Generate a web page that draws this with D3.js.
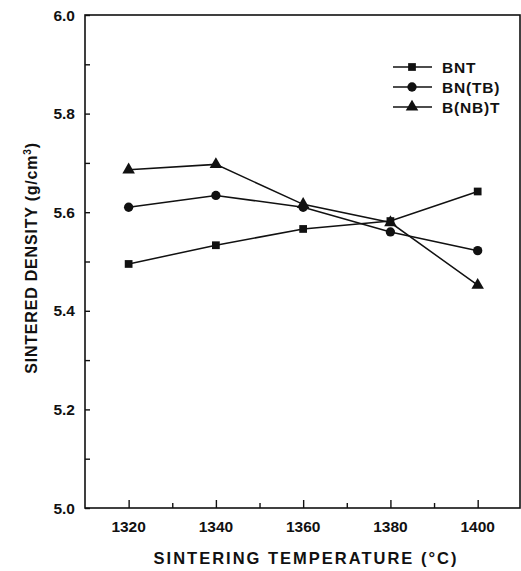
<!DOCTYPE html>
<html><head><meta charset="utf-8">
<script src="https://cdn.jsdelivr.net/npm/d3@7"></script>
<style>body{margin:0;background:#fff}svg{display:block}text{font-family:"Liberation Sans",Arial,sans-serif;font-weight:bold;fill:#111}</style>
</head><body><svg id="c" width="521" height="571"></svg>
<script>
const temps = [1320, 1340, 1360, 1380, 1400];
const bnt = [5.495, 5.533, 5.566, 5.582, 5.642];
const bntb = [5.610, 5.634, 5.610, 5.560, 5.522];
const bnbt = [5.686, 5.697, 5.616, 5.579, 5.452];
const seriesNames = ["BNT", "BN(TB)", "B(NB)T"];
const markers = ["square", "circle", "triangle"];
const xTicks = [1320, 1340, 1360, 1380, 1400];
const yTicks = [5.0, 5.2, 5.4, 5.6, 5.8, 6.0];

const series = [bnt, bntb, bnbt];
const svg = d3.select("#c");
const L = 85, R = 520, T = 15, B = 508;
const x = d3.scaleLinear().domain([1310, 1409.7]).range([L, R]);
const y = d3.scaleLinear().domain([5.0, 6.0]).range([B, T]);
const ink = "#111";

// frame
svg.append("rect").attr("x", L).attr("y", T).attr("width", R - L).attr("height", B - T)
  .attr("fill", "none").attr("stroke", ink).attr("stroke-width", 1.6);

// x axis ticks (inward)
const xAxis = d3.axisTop(x).tickValues(d3.range(1320, 1401, 10)).tickFormat("").tickSizeOuter(0)
  .tickSize(5);
const gx = svg.append("g").attr("transform", `translate(0,${B})`).call(xAxis);
gx.select(".domain").remove();
gx.selectAll(".tick line").attr("stroke", ink).attr("stroke-width", 1.4)
  .attr("y2", d => (d % 20 === 0 ? -8 : -5));
svg.append("g").selectAll("text").data(xTicks).join("text")
  .attr("x", d => x(d)).attr("y", 532).attr("text-anchor", "middle")
  .attr("font-size", 15.5).text(d => d);

// y axis ticks (inward)
const yAxis = d3.axisRight(y).tickValues(d3.range(0, 11).map(i => 5 + i * 0.1)).tickFormat("").tickSizeOuter(0).tickSize(5);
const gy = svg.append("g").attr("transform", `translate(${L},0)`).call(yAxis);
gy.select(".domain").remove();
gy.selectAll(".tick line").attr("stroke", ink).attr("stroke-width", 1.4);
svg.append("g").selectAll("text").data(yTicks).join("text")
  .attr("x", 75).attr("y", d => y(d) + 5.5).attr("text-anchor", "end")
  .attr("font-size", 15.5).text(d => d.toFixed(1));

// titles
svg.append("text").attr("x", 306).attr("y", 564).attr("text-anchor", "middle")
  .attr("font-size", 16.5).attr("letter-spacing", 2).text("SINTERING TEMPERATURE (°C)");
const yt = svg.append("text").attr("transform", "translate(37,258) rotate(-90)")
  .attr("text-anchor", "middle").attr("font-size", 16).attr("letter-spacing", 0.8);
yt.append("tspan").text("SINTERED DENSITY (g/cm");
yt.append("tspan").attr("dy", -6).attr("font-size", 10).text("3");
yt.append("tspan").attr("dy", 6).text(")");

const sym = {
  square: d3.symbol().type(d3.symbolSquare).size(60),
  circle: d3.symbol().type(d3.symbolCircle).size(68),
  triangle: d3.symbol().type(d3.symbolTriangle).size(68)
};

const line = d3.line().x((d, i) => x(temps[i])).y(d => y(d));
series.forEach((s, k) => {
  svg.append("path").datum(s).attr("d", line).attr("fill", "none")
    .attr("stroke", ink).attr("stroke-width", 1.5);
  svg.append("g").selectAll("path").data(s).join("path")
    .attr("d", sym[markers[k]]).attr("fill", ink)
    .attr("transform", (d, i) => `translate(${x(temps[i])},${y(d)})`);
});

// legend
const lg = svg.append("g");
seriesNames.forEach((n, k) => {
  const yy = 67 + k * 20;
  lg.append("line").attr("x1", 393).attr("x2", 432).attr("y1", yy).attr("y2", yy)
    .attr("stroke", ink).attr("stroke-width", 1.3);
  lg.append("path").attr("d", sym[markers[k]]).attr("fill", ink)
    .attr("transform", `translate(412,${yy})`);
  lg.append("text").attr("x", 442).attr("y", yy + 5.5).attr("font-size", 15.5)
    .attr("letter-spacing", 0.8).text(n);
});
</script></body></html>
